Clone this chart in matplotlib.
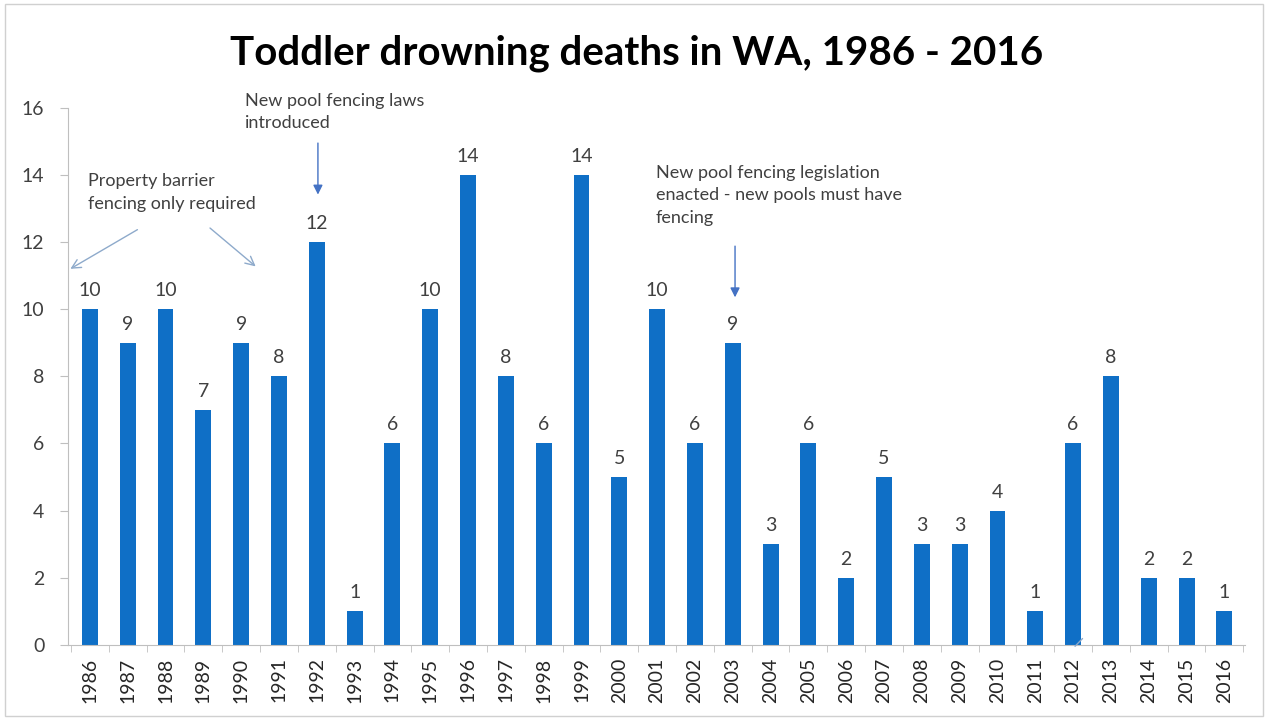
#!/usr/bin/env python3
# -*- coding: utf-8 -*-

"""
Toddler drowning deaths in WA, 1986 - 2016 (bar chart with annotations).
"""

import numpy as np
from matplotlib import pyplot as plt
from matplotlib.patches import Rectangle

# DATA ########################################################################

years = [str(y) for y in range(1986, 2017)]
deaths = [10, 9, 10, 7, 9, 8, 12, 1, 6, 10, 14, 8, 6, 14, 5, 10, 6, 9,
          3, 6, 2, 5, 3, 3, 4, 1, 6, 8, 2, 2, 1]

title = "Toddler drowning deaths in WA, 1986 - 2016"
note_barrier = "Property barrier\nfencing only required"
note_laws = "New pool fencing laws\nintroduced"
note_legislation = "New pool fencing legislation\nenacted - new pools must have\nfencing"

BAR_COLOR = "#0f6fc6"
TEXT_COLOR = "#404040"
AXIS_COLOR = "#bfbfbf"

plt.rcParams['font.family'] = ['Lato', 'DejaVu Sans']

# PLOT ########################################################################

fig = plt.figure(figsize=(12.68, 7.23), dpi=100)
ax = fig.add_axes([0.0536, 0.108, 0.9284, 0.743])

x = np.arange(len(years))
ax.bar(x, deaths, width=0.42, color=BAR_COLOR, zorder=2)

for xi, v in zip(x, deaths):
    ax.text(xi, v + 0.3, str(v), ha="center", va="bottom",
            fontsize=14, color=TEXT_COLOR)

ax.set_xlim(-0.58, 30.55)
ax.set_ylim(0, 16)
ax.set_yticks(range(0, 17, 2))
ax.tick_params(axis="y", labelsize=14, colors=TEXT_COLOR, length=6,
               color=AXIS_COLOR, pad=11)

# category ticks sit between the bars, labels at the bar centres
ax.set_xticks(x)
ax.set_xticklabels(years, rotation=90, fontsize=14, color="#262626")
ax.tick_params(axis="x", which="major", length=0, pad=9)
ax.set_xticks(np.arange(-0.5, len(years), 1.0), minor=True)
ax.tick_params(axis="x", which="minor", length=5, color=AXIS_COLOR)

for side in ["top", "right"]:
    ax.spines[side].set_visible(False)
for side in ["left", "bottom"]:
    ax.spines[side].set_color(AXIS_COLOR)

fig.text(0.502, 0.926, title, ha="center", va="center", fontsize=29,
         fontweight="bold", color="black")

# Annotations #####################

ax.text(-0.05, 14.05, note_barrier, ha="left", va="top", fontsize=13,
        color=TEXT_COLOR, linespacing=1.5)
thin_arrow = dict(arrowstyle="->", color="#8eaacb", lw=1.0, mutation_scale=16)
ax.annotate("", xy=(-0.58, 11.16), xytext=(1.32, 12.41),
            arrowprops=thin_arrow, annotation_clip=False)
ax.annotate("", xy=(4.44, 11.22), xytext=(3.12, 12.47),
            arrowprops=thin_arrow, annotation_clip=False)

ax.text(4.1, 16.45, note_laws, ha="left", va="top", fontsize=13,
        color=TEXT_COLOR, linespacing=1.5, clip_on=False)
fill_arrow = dict(arrowstyle="-|>", color="#4472c4", lw=1.0, mutation_scale=14)
ax.annotate("", xy=(6.03, 13.33), xytext=(6.03, 15.03),
            arrowprops=fill_arrow, annotation_clip=False)

ax.text(14.97, 14.3, note_legislation, ha="left", va="top", fontsize=13,
        color=TEXT_COLOR, linespacing=1.5)
ax.annotate("", xy=(17.06, 10.27), xytext=(17.06, 11.96),
            arrowprops=fill_arrow, annotation_clip=False)

# stray little arrow stroke near 2012 on the axis
ax.annotate("", xy=(26.0, -0.1), xytext=(26.3, 0.25),
            arrowprops=dict(arrowstyle="-", color="#8eaacb", lw=1.0),
            annotation_clip=False)

# light frame round the whole picture
fig.patches.append(Rectangle((0.004, 0.01), 0.992, 0.985, transform=fig.transFigure,
                             fill=False, edgecolor="#d0d0d0", lw=1.0))

fig.savefig("out.png", dpi=100)
